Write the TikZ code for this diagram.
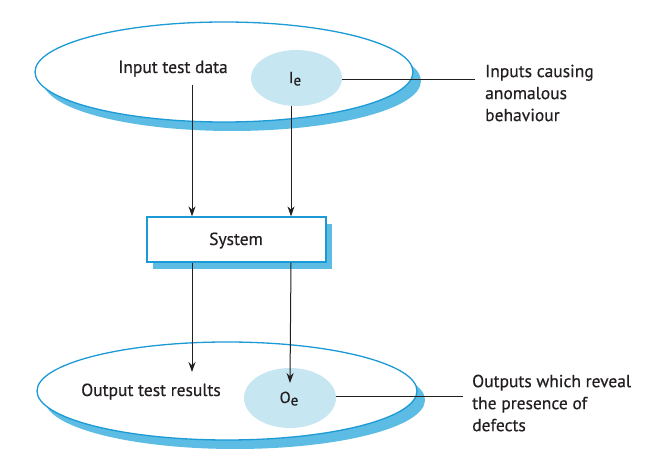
\documentclass[tikz,border=0pt]{standalone}
\usepackage{fontspec}
\setmainfont{PT Sans}[FakeBold=0.5]
\usetikzlibrary{shapes.geometric,shadows,arrows.meta}
\definecolor{outl}{HTML}{1C9AD6}
\definecolor{shad}{HTML}{5CBCE3}
\definecolor{inner}{HTML}{C6E6F2}
\definecolor{txt}{HTML}{231F20}
\tikzset{
  bigell/.style={ellipse, draw=outl, line width=1.3pt, fill=white, inner sep=0pt,
    general shadow={shadow xshift=8pt, shadow yshift=-9pt, fill=shad}},
  smallell/.style={ellipse, fill=inner, inner sep=0pt, text=txt},
  sysbox/.style={rectangle, draw=outl, line width=1.3pt, fill=white, inner sep=0pt,
    minimum width=179pt, minimum height=45pt, text=txt,
    general shadow={shadow xshift=6pt, shadow yshift=-7pt, fill=shad}},
  lbl/.style={text=txt, inner sep=0pt},
  conn/.style={draw=txt, line width=1pt},
  arr/.style={conn, -{Stealth[length=10pt,width=7pt]}},
}
\newcommand{\subE}{\raisebox{-0.3ex}{\fontsize{15}{15}\selectfont e}}
\begin{document}
\begin{tikzpicture}[x=1pt,y=-1pt,font=\fontsize{17.5}{22}\selectfont]
\useasboundingbox (0,0) rectangle (665,470);
% top
\node[bigell, minimum width=378pt, minimum height=100pt] (inE) at (224,72) {};
\node[lbl, anchor=base] (intext) at (173,73) {Input test data};
\node[smallell, minimum width=91pt, minimum height=56pt] (ie) at (296.5,78) {};
\node[lbl, anchor=base, font=\fontsize{16}{16}\selectfont] (ietext) at (295,83) {I\subE};
\node[lbl, align=left, anchor=north west] (inlbl) at (485,64.5) {Inputs causing\\anomalous\\behaviour};
\coordinate (ieend) at (475,80);
\draw[conn] (ie.east |- ieend) -- (ieend);
% system
\node[sysbox] (sys) at (236.5,239.5) {};
\node[lbl, anchor=base] (systext) at (236,245) {System};
\coordinate (xa) at (192,0);
\coordinate (xb) at (291,0);
\coordinate (s1) at (192,85);
\draw[arr] (s1) -- (xa |- sys.north);
\draw[arr] (ie.south -| xb) -- (xb |- sys.north);
% bottom
\node[bigell, minimum width=380pt, minimum height=98pt] (outE) at (227,391) {};
\node[lbl, anchor=base] (outtext) at (151,396) {Output test results};
\node[smallell, minimum width=92pt, minimum height=60pt] (oe) at (290,398) {};
\node[lbl, anchor=base, font=\fontsize{16}{16}\selectfont] (oetext) at (289,403) {O\subE};
\node[lbl, align=left, anchor=north west] (outlbl) at (472,374.5) {Outputs which reveal\\the presence of\\defects};
\coordinate (oeend) at (463,397);
\draw[conn] (oe.east |- oeend) -- (oeend);
\coordinate (t1) at (192,372);
\coordinate (t2) at (290,383);
\draw[arr] (xa |- sys.south) -- (t1);
\draw[arr] (xb |- sys.south) -- (t2);
\end{tikzpicture}
\end{document}
